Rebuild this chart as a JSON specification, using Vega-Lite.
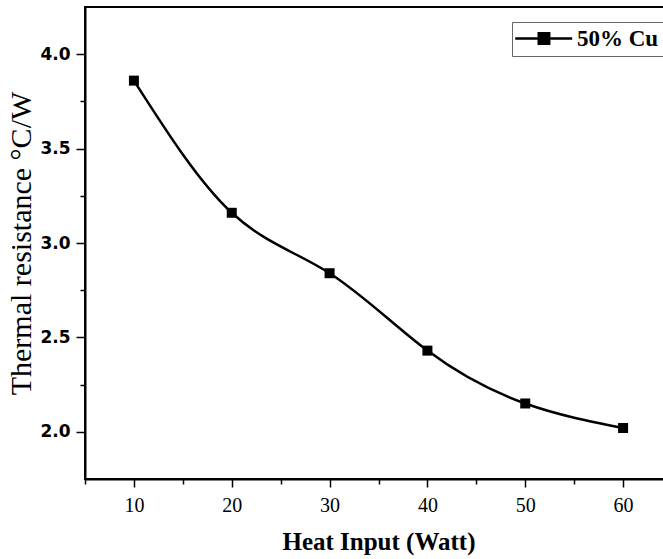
{
  "$schema": "https://vega.github.io/schema/vega-lite/v6.json",
  "width": 587,
  "height": 472,
  "autosize": {"type": "none"},
  "padding": {"left": 85, "top": 7, "right": 0, "bottom": 80},
  "background": "white",
  "config": {
    "view": {"stroke": "black", "strokeWidth": 2},
    "axis": {"domainColor": "black", "domainWidth": 2, "tickColor": "black", "tickWidth": 1.5, "grid": false, "labelColor": "black", "titleColor": "black"}
  },
  "data": {
    "values": [
      {"x": 10, "y": 3.86, "s": "50% Cu"},
      {"x": 20, "y": 3.16, "s": "50% Cu"},
      {"x": 30, "y": 2.84, "s": "50% Cu"},
      {"x": 40, "y": 2.43, "s": "50% Cu"},
      {"x": 50, "y": 2.15, "s": "50% Cu"},
      {"x": 60, "y": 2.02, "s": "50% Cu"}
    ]
  },
  "encoding": {
    "x": {
      "field": "x", "type": "quantitative",
      "scale": {"domain": [5, 65], "nice": false, "zero": false},
      "axis": {
        "title": "Heat Input (Watt)",
        "titleFont": "Liberation Serif", "titleFontSize": 25, "titleFontWeight": "bold", "titlePadding": 14,
        "values": [5, 10, 15, 20, 25, 30, 35, 40, 45, 50, 55, 60],
        "labelExpr": "datum.value % 10 === 0 ? datum.label : ''",
        "labelFont": "Liberation Serif", "labelFontSize": 20, "labelPadding": 8,
        "tickSize": {"condition": {"test": "datum.value % 10 === 0", "value": 8}, "value": 5}
      }
    },
    "y": {
      "field": "y", "type": "quantitative",
      "scale": {"domain": [1.75, 4.25], "nice": false, "zero": false},
      "axis": {
        "title": "Thermal resistance °C/W",
        "titleFont": "Liberation Serif", "titleFontSize": 30, "titleFontWeight": "normal", "titlePadding": 3,
        "values": [2.0, 2.25, 2.5, 2.75, 3.0, 3.25, 3.5, 3.75, 4.0],
        "format": ".1f",
        "labelExpr": "(datum.value * 2) % 1 === 0 ? datum.label : ''",
        "labelFont": "DejaVu Sans", "labelFontSize": 17, "labelFontWeight": "bold", "labelPadding": 6,
        "tickSize": {"condition": {"test": "(datum.value * 2) % 1 === 0", "value": 9}, "value": 5}
      }
    },
    "color": {
      "field": "s", "type": "nominal",
      "scale": {"range": ["black"]},
      "legend": {
        "title": null,
        "orient": "none", "legendX": 427, "legendY": 15,
        "symbolType": "M-1.4,0H4.6M1.08,-0.55H2.18V0.55H1.08Z",
        "symbolSize": 361,
        "symbolStrokeWidth": 2.5,
        "symbolFillColor": "black",
        "symbolStrokeColor": "black",
        "labelFont": "Liberation Serif", "labelFontSize": 23, "labelFontWeight": "bold", "labelColor": "black",
        "labelOffset": 37,
        "strokeColor": "#666666", "fillColor": "white", "padding": 5
      }
    }
  },
  "layer": [
    {"mark": {"type": "line", "interpolate": "natural", "strokeWidth": 2.5}},
    {"mark": {"type": "point", "shape": "square", "filled": true, "size": 100, "opacity": 1}}
  ]
}
